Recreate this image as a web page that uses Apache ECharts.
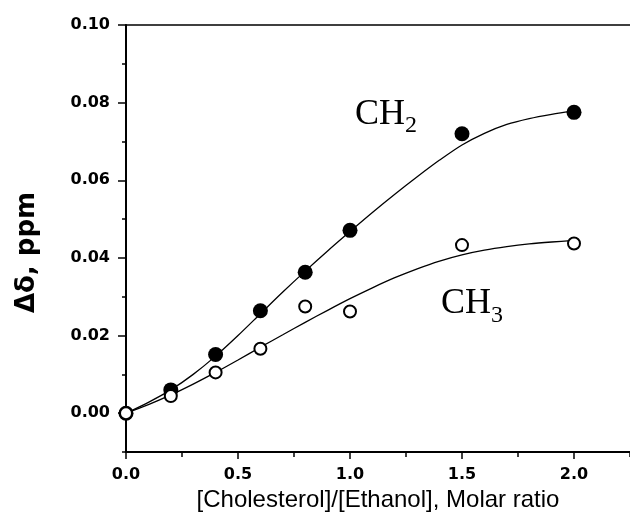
<!DOCTYPE html>
<html>
<head>
<meta charset="utf-8">
<script src="https://cdn.jsdelivr.net/npm/echarts/dist/echarts.min.js"></script>
<style>
  html, body { margin: 0; padding: 0; background: #fff; }
  #chart { width: 630px; height: 529px; }
</style>
</head>
<body>
<div id="chart"></div>
<script>
// measured points: x = [Cholesterol]/[Ethanol] molar ratio
const ratio = [0, 0.2, 0.4, 0.6, 0.8, 1.0, 1.5, 2.0];
const ch2Points = [0, 0.0060, 0.0151, 0.0264, 0.0363, 0.0471, 0.0720, 0.0775];
const ch3Points = [0, 0.0044, 0.0105, 0.0166, 0.0275, 0.0262, 0.0433, 0.0437];

// fitted curves
const fitX = [0, 0.1, 0.2, 0.3, 0.4, 0.5, 0.6, 0.7, 0.8, 0.9, 1.0,
              1.1, 1.2, 1.3, 1.4, 1.5, 1.6, 1.7, 1.8, 1.9, 2.0];
const ch2Fit = [0, 0.0028, 0.0060, 0.0100, 0.0147, 0.0200, 0.0256, 0.0312, 0.0366, 0.0418, 0.0468,
                0.0517, 0.0564, 0.0609, 0.0652, 0.0691, 0.0721, 0.0744, 0.0759, 0.0770, 0.0779];
const ch3Fit = [0, 0.0022, 0.0047, 0.0075, 0.0105, 0.0137, 0.0170, 0.0202, 0.0234, 0.0265, 0.0295,
                0.0323, 0.0349, 0.0372, 0.0392, 0.0408, 0.0420, 0.0429, 0.0436, 0.0441, 0.0445];

// tick labels
const xTickLabels = ['0.0', '0.5', '1.0', '1.5', '2.0'];
const yTickLabels = ['0.00', '0.02', '0.04', '0.06', '0.08', '0.10'];

function pickLabel(list, v) {
  const hit = list.find(t => Math.abs(parseFloat(t) - v) < 1e-6);
  return hit || '';
}
function pairs(xs, ys) {
  return xs.map((x, i) => [x, ys[i]]);
}

const tickFont = { fontFamily: 'DejaVu Sans', fontWeight: 'bold', fontSize: 16, color: '#000' };
const black = '#000';

const chart = echarts.init(document.getElementById('chart'));
chart.setOption({
  animation: false,
  backgroundColor: '#fff',
  grid: { left: 126, top: 25, width: 507, height: 427, containLabel: false },
  xAxis: [
    { // minor ticks + axis line
      type: 'value', min: 0, max: 2.25, interval: 0.25, position: 'bottom',
      axisLine: { show: true, onZero: false, lineStyle: { color: black, width: 2 } },
      axisTick: { show: true, length: 5, lineStyle: { color: black, width: 1.5 } },
      axisLabel: { show: false },
      splitLine: { show: false }
    },
    { // major ticks + labels
      type: 'value', min: 0, max: 2.25, interval: 0.5, position: 'bottom',
      axisLine: { show: false, onZero: false },
      axisTick: { show: true, length: 7, lineStyle: { color: black, width: 1.5 } },
      axisLabel: Object.assign({ margin: 15, showMaxLabel: false,
        formatter: v => pickLabel(xTickLabels, v) }, tickFont),
      splitLine: { show: false },
      name: '[Cholesterol]/[Ethanol], Molar ratio',
      nameLocation: 'middle',
      nameGap: 36,
      nameTextStyle: { fontFamily: 'Liberation Sans', fontSize: 24, color: black }
    },
    { // frame on top
      type: 'value', min: 0, max: 2.25, position: 'top',
      axisLine: { show: true, onZero: false, lineStyle: { color: black, width: 1.5 } },
      axisTick: { show: false }, axisLabel: { show: false }, splitLine: { show: false }
    }
  ],
  yAxis: [
    { // minor ticks + axis line
      type: 'value', min: -0.01, max: 0.10, interval: 0.01, position: 'left',
      axisLine: { show: true, onZero: false, lineStyle: { color: black, width: 2 } },
      axisTick: { show: true, length: 4, lineStyle: { color: black, width: 1.5 } },
      axisLabel: { show: false },
      splitLine: { show: false }
    },
    { // major ticks + labels
      type: 'value', min: -0.01, max: 0.10, splitNumber: 5, position: 'left',
      axisLine: { show: false, onZero: false },
      axisTick: { show: true, length: 8, lineStyle: { color: black, width: 1.5 } },
      axisLabel: Object.assign({ margin: 16, showMinLabel: false,
        formatter: v => pickLabel(yTickLabels, v) }, tickFont),
      splitLine: { show: false },
      name: 'Δδ, ppm',
      nameLocation: 'middle',
      nameGap: 86,
      nameTextStyle: { fontFamily: 'DejaVu Sans', fontWeight: 'bold', fontSize: 26,
                       color: black, padding: [0, 28, 0, 0] }
    }
  ],
  series: [
    {
      name: 'CH2 fit', type: 'line', data: pairs(fitX, ch2Fit),
      smooth: 0.3, showSymbol: false, z: 2,
      lineStyle: { color: black, width: 1.3 }
    },
    {
      name: 'CH3 fit', type: 'line', data: pairs(fitX, ch3Fit),
      smooth: 0.3, showSymbol: false, z: 2,
      lineStyle: { color: black, width: 1.3 }
    },
    {
      name: 'CH2', type: 'scatter', data: pairs(ratio, ch2Points),
      symbol: 'circle', symbolSize: 15, z: 3,
      itemStyle: { color: black, opacity: 1 }
    },
    {
      name: 'CH3', type: 'scatter', data: pairs(ratio, ch3Points),
      symbol: 'circle', symbolSize: 12, z: 4,
      itemStyle: { color: '#fff', borderColor: black, borderWidth: 2, opacity: 1 }
    }
  ],
  graphic: [
    { type: 'text', left: 355, top: 97, style: { text: 'CH', font: '36px "Liberation Serif"', fill: black } },
    { type: 'text', left: 405, top: 114, style: { text: '2', font: '24px "Liberation Serif"', fill: black } },
    { type: 'text', left: 441, top: 286, style: { text: 'CH', font: '36px "Liberation Serif"', fill: black } },
    { type: 'text', left: 491, top: 304, style: { text: '3', font: '24px "Liberation Serif"', fill: black } }
  ]
});
</script>
</body>
</html>
